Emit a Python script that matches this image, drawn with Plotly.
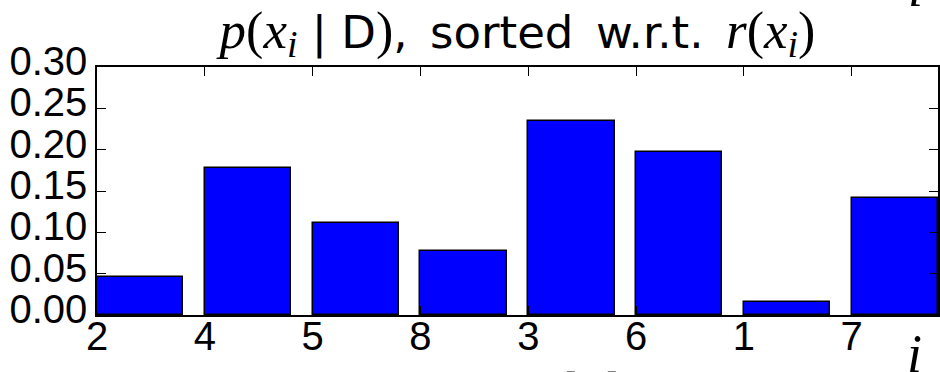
import plotly.graph_objects as go

# data
order_labels = ["2", "4", "5", "8", "3", "6", "1", "7"]
probs = [0.046, 0.1775, 0.111, 0.078, 0.235, 0.197, 0.016, 0.142]
positions = list(range(len(order_labels)))
y_ticks = [0.00, 0.05, 0.10, 0.15, 0.20, 0.25, 0.30]

W, H = 940, 372
ML, MR, MT, MB = 97, 0, 67, 57
PH = H - MT - MB

SANS = "DejaVu Sans"
SERIF = "Liberation Serif"
TICKF = "Liberation Sans"
FS = 45   # title text size
FM = 53   # title math size
FP = 52   # parentheses size
FSUB = 38 # subscript size
SP = "\u2002"  # en space

def sans(s):
    return f'<span style="font-family:{SANS};font-size:{FS}px">{s}</span>'

def serif(s, size=FP):
    return f'<span style="font-family:{SERIF};font-size:{size}px">{s}</span>'

def mi(s, size=FM):
    return f'<span style="font-family:{SERIF};font-size:{size}px;font-style:italic">{s}</span>'

title_text = (mi("p") + serif("(") + mi("x") + '<sub>' + mi("i", FSUB) + '</sub>' +
              sans(" | ") + sans("D") + serif(")") +
              sans("," + SP + "sorted" + SP + "w.r.t." + SP) +
              mi("r") + serif("(") + mi("x") + '<sub>' + mi("i", FSUB) + '</sub>' + serif(")"))

fig = go.Figure()
fig.add_trace(go.Bar(
    x=positions, y=probs, width=0.8, offset=0,
    marker=dict(color="#0000ff", line=dict(color="black", width=1.5)),
    hoverinfo="skip",
))

axis_common = dict(
    showgrid=False, zeroline=False, showline=True, linecolor="black", linewidth=1.5,
    ticks="inside", ticklen=9, tickwidth=1.2, tickcolor="black", mirror="ticks",
    tickfont=dict(family=TICKF, size=40, color="black"),
)

fig.update_layout(
    width=W, height=H,
    margin=dict(l=ML, r=MR, t=MT, b=MB, pad=0),
    paper_bgcolor="white", plot_bgcolor="white",
    showlegend=False,
    bargap=0,
    title=dict(text=title_text, x=0.5, xref="paper", xanchor="center",
               y=1 - 48 / H, yref="container", yanchor="bottom",
               font=dict(family=SANS, size=FS, color="black")),
    xaxis=dict(range=[0, 7.8], tickvals=positions, ticktext=order_labels,
               ticklabelstandoff=-15, **axis_common),
    yaxis=dict(range=[0, 0.30], tickvals=y_ticks, tickformat=".2f",
               ticklabelshift=-6, **axis_common),
)

# axis label "i" at bottom right
fig.add_annotation(text="<i>i</i>", xref="paper", yref="paper",
                   x=(916 - ML) / (W - ML - MR), y=(MT + PH - 322) / PH,
                   xanchor="center", yanchor="top", showarrow=False,
                   font=dict(family=SERIF, size=54, color="black"))
# cropped "i" at top right
fig.add_annotation(text="<i>i</i>", xref="paper", yref="paper",
                   x=(917 - ML) / (W - ML - MR), y=(MT + PH - 20) / PH,
                   xanchor="center", yanchor="bottom", showarrow=False,
                   font=dict(family=SERIF, size=54, color="black"))
# small cropped marks at bottom
for cx in (572, 613):
    fig.add_shape(type="line", xref="paper", yref="paper",
                  x0=(cx - 4 - ML) / (W - ML), x1=(cx + 4 - ML) / (W - ML),
                  y0=(MT + PH - 373) / PH, y1=(MT + PH - 373) / PH,
                  line=dict(color="black", width=3))

fig.write_html("out.html")
